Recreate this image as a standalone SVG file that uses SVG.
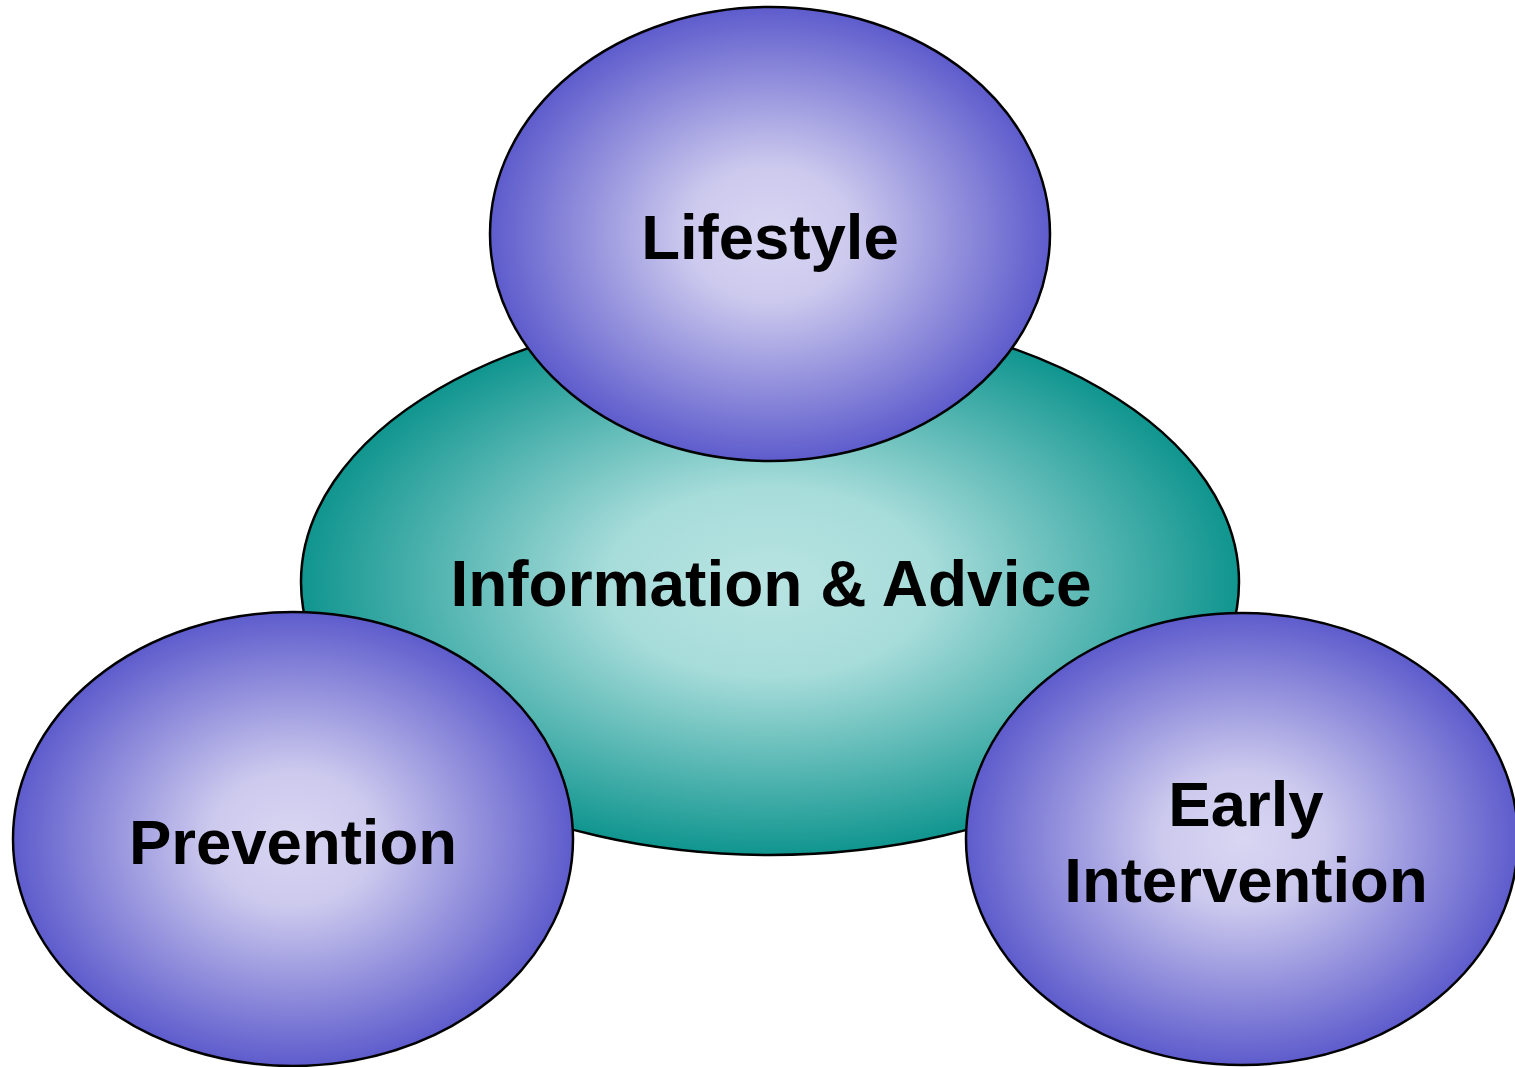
<svg xmlns="http://www.w3.org/2000/svg" width="1515" height="1067" viewBox="0 0 1515 1067">
<defs>
<radialGradient id="gTeal" cx="0.5" cy="0.5" r="0.5">
<stop offset="0" stop-color="#b8e4e2"/>
<stop offset="0.35" stop-color="#a6dcda"/>
<stop offset="1" stop-color="#10958f"/>
</radialGradient>
<radialGradient id="gPurple" cx="0.5" cy="0.5" r="0.5">
<stop offset="0" stop-color="#d8d6f2"/>
<stop offset="0.3" stop-color="#ccc9ee"/>
<stop offset="1" stop-color="#5e5ccc"/>
</radialGradient>
<style>
.teal{fill:url(#gTeal);stroke:#000;stroke-width:2.5}
.purple{fill:url(#gPurple);stroke:#000;stroke-width:2.5}
.lbl{font-family:"Liberation Sans",Arial,sans-serif;font-weight:bold;font-size:63.5px;fill:#000;text-anchor:middle}
</style>
</defs>
<rect width="1515" height="1067" fill="#fff"/>
<g id="connectors"></g>
<g id="info">
<ellipse class="teal" cx="770" cy="582" rx="469" ry="273"/>
<text class="lbl" x="771" y="606" style="font-size:64px">Information &amp; Advice</text>
</g>
<g id="lifestyle">
<ellipse class="purple" cx="770" cy="234" rx="280" ry="227"/>
<text class="lbl" x="770" y="259">Lifestyle</text>
</g>
<g id="prevention">
<ellipse class="purple" cx="293" cy="839" rx="280" ry="227"/>
<text class="lbl" x="293" y="864">Prevention</text>
</g>
<g id="early">
<ellipse class="purple" cx="1242" cy="839" rx="276" ry="226"/>
<text class="lbl" x="1246" y="826">Early</text>
<text class="lbl" x="1246" y="902">Intervention</text>
</g>
</svg>
